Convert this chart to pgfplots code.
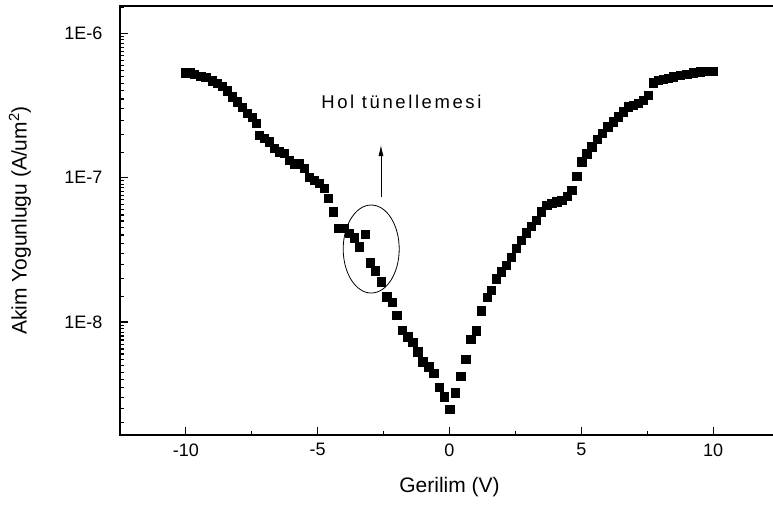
\documentclass[border=0pt]{standalone}
\usepackage{fontspec}
\setmainfont{Liberation Sans}
\usepackage{pgfplots}
\pgfplotsset{compat=1.18}
\usetikzlibrary{arrows.meta}

% Current density vs. voltage, one sweep from -10 V to +10 V
\pgfplotstableread{
x      y
-10.00 5.31e-7
-9.85  5.31e-7
-9.68  5.20e-7
-9.44  5.04e-7
-9.25  4.93e-7
-9.01  4.68e-7
-8.82  4.49e-7
-8.63  4.30e-7
-8.44  3.99e-7
-8.25  3.62e-7
-8.06  3.35e-7
-7.87  3.06e-7
-7.68  2.78e-7
-7.49  2.61e-7
-7.34  2.37e-7
-7.22  1.97e-7
-7.03  1.87e-7
-6.84  1.77e-7
-6.65  1.59e-7
-6.46  1.51e-7
-6.27  1.47e-7
-6.08  1.32e-7
-5.89  1.25e-7
-5.70  1.25e-7
-5.51  1.16e-7
-5.32  1.01e-7
-5.13  9.61e-8
-4.94  9.12e-8
-4.75  8.41e-8
-4.60  7.18e-8
-4.42  5.79e-8
-4.21  4.45e-8
-3.99  4.45e-8
-3.80  4.11e-8
-3.61  3.83e-8
-3.42  3.32e-8
-3.19  4.05e-8
-3.01  2.57e-8
-2.81  2.26e-8
-2.60  1.90e-8
-2.38  1.50e-8
-2.18  1.37e-8
-2.00  1.11e-8
-1.80  8.81e-9
-1.59  7.91e-9
-1.40  7.24e-9
-1.21  6.22e-9
-1.02  5.31e-9
-0.79  4.91e-9
-0.60  4.42e-9
-0.38  3.53e-9
-0.19  3.04e-9
0.00   2.49e-9
0.22   3.24e-9
0.42   4.23e-9
0.61   5.55e-9
0.80   7.59e-9
1.02   8.71e-9
1.21   1.20e-8
1.42   1.48e-8
1.59   1.66e-8
1.78   2.00e-8
1.97   2.23e-8
2.16   2.48e-8
2.35   2.81e-8
2.54   3.24e-8
2.73   3.69e-8
2.92   4.15e-8
3.11   4.61e-8
3.30   5.08e-8
3.49   5.79e-8
3.68   6.46e-8
3.87   6.62e-8
4.06   6.81e-8
4.25   6.98e-8
4.46   7.41e-8
4.63   8.18e-8
4.82   1.02e-7
5.01   1.29e-7
5.20   1.46e-7
5.39   1.63e-7
5.60   1.84e-7
5.80   2.02e-7
6.00   2.25e-7
6.20   2.43e-7
6.40   2.64e-7
6.59   2.85e-7
6.78   3.09e-7
6.97   3.18e-7
7.16   3.26e-7
7.35   3.44e-7
7.54   3.72e-7
7.73   4.53e-7
7.92   4.73e-7
8.11   4.79e-7
8.30   4.86e-7
8.49   4.99e-7
8.75   5.12e-7
9.00   5.20e-7
9.25   5.31e-7
9.51   5.40e-7
9.76   5.46e-7
10.00  5.46e-7
}\jvdata

\begin{document}
\begin{tikzpicture}
% page frame: the axis box runs on past its right edge
\path[use as bounding box, clip] (-120bp,-72bp) rectangle (653bp,435bp);
\begin{axis}[
  at={(0,0)}, anchor=south west,
  scale only axis,
  width=659bp, height=429bp,
  xmin=-12.5, xmax=12.5,
  ymode=log,
  ymin=1.65e-9, ymax=1.54e-6,
  tick pos=left,
  tick align=inside,
  xtick={-10,-5,0,5,10},
  xticklabels={-10,-5,0,5,10},
  minor xtick={-7.5,-2.5,2.5,7.5},
  ytick={1e-8,1e-7,1e-6},
  yticklabels={1E-8,1E-7,1E-6},
  minor ytick={2e-9,2.5e-9,3e-9,3.5e-9,4e-9,4.5e-9,5e-9,5.5e-9,6e-9,6.5e-9,7e-9,7.5e-9,8e-9,8.5e-9,9e-9,9.5e-9,
               1.5e-8,2e-8,2.5e-8,3e-8,3.5e-8,4e-8,4.5e-8,5e-8,5.5e-8,6e-8,6.5e-8,7e-8,7.5e-8,8e-8,8.5e-8,9e-8,9.5e-8,
               1.5e-7,2e-7,2.5e-7,3e-7,3.5e-7,4e-7,4.5e-7,5e-7,5.5e-7,6e-7,6.5e-7,7e-7,7.5e-7,8e-7,8.5e-7,9e-7,9.5e-7,
               1.5e-6},
  major tick length=8bp,
  minor tick length=4.5bp,
  axis line style={draw=none},
  every tick/.append style={black, line width=1.1bp},
  ticklabel style={font=\fontsize{18bp}{21bp}\selectfont},
  xticklabel style={yshift=-5bp},
  yticklabel style={xshift=-14bp},
  label style={font=\fontsize{21bp}{25bp}\selectfont},
  xlabel={Gerilim (V)},
  ylabel={Akim Yogunlugu (A/um\textsuperscript{2})},
  xlabel style={at={(axis description cs:0.5,-0.1212)}, anchor=center},
  ylabel style={at={(axis description cs:-0.1517,0.5)}, anchor=center},
]
\addplot[only marks, mark=square*, mark size=4.2bp, black] table[x=x, y=y] {\jvdata};

% hole tunnelling region and its annotation
\draw[line width=0.8bp] (axis cs:-2.97,3.20e-8) ellipse [x radius=28bp, y radius=44bp];
\draw[line width=0.8bp, -{Latex[length=11bp,width=5bp]}] (axis cs:-2.60,7.33e-8) -- (axis cs:-2.60,1.68e-7);
\node[anchor=base west, inner sep=0pt, font=\fontsize{18.5bp}{22bp}\selectfont\addfontfeature{LetterSpace=14}]
  at (axis cs:-4.87,3.03e-7) {Hol tünellemesi};
\end{axis}
% frame: top, left and bottom sides of the axis box
\draw[line width=1.5bp, line cap=rect] (current axis.north east) -- (current axis.north west)
  -- (current axis.south west) -- (current axis.south east);
\end{tikzpicture}
\end{document}
